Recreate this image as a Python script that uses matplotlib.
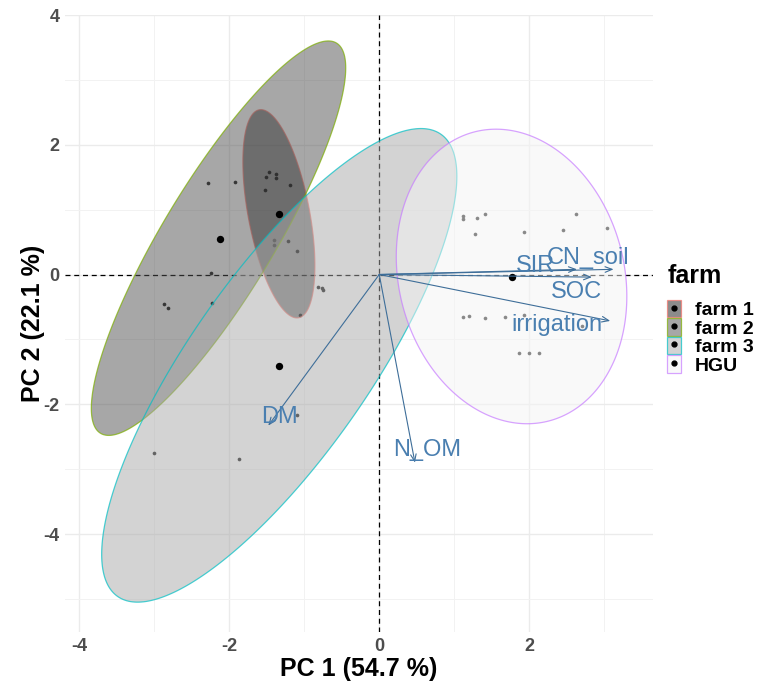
import numpy as np
import matplotlib
matplotlib.use("Agg")
import matplotlib.pyplot as plt
from matplotlib.patches import Polygon, Patch
from matplotlib.lines import Line2D
from matplotlib.colors import to_rgba

plt.rcParams['font.family'] = ['Liberation Sans', 'DejaVu Sans']
plt.rcParams['axes.unicode_minus'] = False

# groups
farms = ['farm 1', 'farm 2', 'farm 3', 'HGU']

# individuals (PC1, PC2) per farm
farm1_x = [-1.467, -1.378, -1.378, -1.51, -1.524, -1.187, -1.409, -1.409, -1.222, -1.102, -1.058]
farm1_y = [1.58, 1.55, 1.48, 1.50, 1.30, 1.386, 0.535, 0.456, 0.517, 0.365, -0.62]
farm2_x = [-2.28, -1.93, -2.249, -2.871, -2.813, -2.236]
farm2_y = [1.41, 1.42, 0.03, -0.456, -0.517, -0.444]
farm3_x = [-0.813, -0.769, -0.747, -1.093, -3.004, -1.867]
farm3_y = [-0.2, -0.213, -0.243, -2.158, -2.748, -2.845]
hgu_x = [1.116, 1.116, 1.302, 1.413, 1.28, 1.924, 2.449, 2.618, 3.036,
         1.116, 1.191, 1.413, 1.671, 1.924, 1.858, 1.991, 2.133, 2.702]
hgu_y = [0.908, 0.857, 0.867, 0.934, 0.626, 0.661, 0.687, 0.934, 0.713,
         -0.649, -0.638, -0.674, -0.658, -0.623, -1.213, -1.213, -1.213, -0.792]

# group means
mean_x = [-1.338, -2.13, -1.336, 1.769]
mean_y = [0.936, 0.547, -1.404, -0.04]

# ellipses: centre, sd x, sd y, correlation
ell_cx = [-1.338, -2.143, -1.333, 1.764]
ell_cy = [0.936, 0.56, -1.40, -0.03]
ell_sx = [0.48, 1.696, 2.368, 1.537]
ell_sy = [1.605, 3.04, 3.65, 2.27]
ell_rho = [-0.50, 0.863, 0.798, -0.135]

# variables
var_names = ['DM', 'N_OM', 'SIR', 'CN_soil', 'SOC', 'irrigation']
var_x = [-1.48, 0.476, 2.636, 3.124, 2.836, 3.08]
var_y = [-2.33, -2.90, 0.08, 0.08, -0.04, -0.715]
lab_x = [-1.324, 0.644, 2.08, 2.79, 2.636, 2.369]
lab_y = [-2.19, -2.705, 0.13, 0.25, -0.263, -0.777]

edge_cols = ['#F8766D', '#7CAE00', '#00BFC4', '#C77CFF']
fill_greys = ['#000000', '#505050', '#a9a9a9', '#f5f5f5']
fill_alpha = [0.45, 0.5, 0.5, 0.5]


def ellipse_xy(cx, cy, sx, sy, rho, n=300):
    t = np.linspace(0, 2 * np.pi, n)
    cov = np.array([[sx * sx, rho * sx * sy], [rho * sx * sy, sy * sy]])
    L = np.linalg.cholesky(cov)
    pts = L @ np.vstack([np.cos(t), np.sin(t)])
    return cx + pts[0], cy + pts[1]


fig = plt.figure(figsize=(7.62, 6.84), dpi=100)
ax = fig.add_axes([65 / 762, 52 / 684, 588 / 762, 617 / 684])

ax.set_xlim(-4.19, 3.65)
ax.set_ylim(-5.51, 4.0)

# grid like theme_minimal
for v in [-4, -2, 0, 2]:
    ax.axvline(v, color='#ebebeb', lw=1.0, zorder=0)
for v in [-3, -1, 1, 3]:
    ax.axvline(v, color='#f2f2f2', lw=0.7, zorder=0)
for v in [-4, -2, 0, 2, 4]:
    ax.axhline(v, color='#ebebeb', lw=1.0, zorder=0)
for v in [-5, -3, -1, 1, 3]:
    ax.axhline(v, color='#f2f2f2', lw=0.7, zorder=0)

# individuals
all_x = farm1_x + farm2_x + farm3_x + hgu_x
all_y = farm1_y + farm2_y + farm3_y + hgu_y
ax.scatter(all_x, all_y, s=7, color='#1e1e1e', lw=0, zorder=1)

ax.axvline(0, color='black', lw=0.9, ls=(0, (4, 3)), zorder=1.5)
ax.axhline(0, color='black', lw=0.9, ls=(0, (4, 3)), zorder=1.5)

# ellipses, drawn over the points
for i in range(4):
    ex, ey = ellipse_xy(ell_cx[i], ell_cy[i], ell_sx[i], ell_sy[i], ell_rho[i])
    poly = Polygon(np.column_stack([ex, ey]), closed=True,
                   facecolor=to_rgba(fill_greys[i], fill_alpha[i]),
                   edgecolor=to_rgba(edge_cols[i], 0.7), lw=0.9, zorder=2)
    ax.add_patch(poly)

ax.scatter(mean_x, mean_y, s=28, color='black', lw=0, zorder=3)

# variable arrows
for i in range(len(var_names)):
    ax.annotate('', xy=(var_x[i], var_y[i]), xytext=(0, 0),
                arrowprops=dict(arrowstyle='->,head_length=0.5,head_width=0.2',
                                color='#3e6e99', lw=0.8, shrinkA=0, shrinkB=0),
                zorder=4)
    ax.text(lab_x[i], lab_y[i], var_names[i], color='#4a7fb0', fontsize=17,
            ha='center', va='center', zorder=5)

ax.set_xticks([-4, -2, 0, 2])
ax.set_yticks([-4, -2, 0, 2, 4])
ax.tick_params(length=0, labelsize=13, labelcolor='#4d4d4d', pad=4)
for lab in ax.get_xticklabels() + ax.get_yticklabels():
    lab.set_fontweight('bold')
for s in ax.spines.values():
    s.set_visible(False)

ax.set_xlabel('PC 1 (54.7 %)', fontsize=18, fontweight='bold', labelpad=2)
ax.set_ylabel('PC 2 (22.1 %)', fontsize=18, fontweight='bold', labelpad=-1)

# legend
handles = []
for i in range(4):
    box = Patch(facecolor=to_rgba(fill_greys[i], fill_alpha[i]),
                edgecolor=to_rgba(edge_cols[i], 0.7), lw=0.9)
    dot = Line2D([], [], marker='o', color='black', ms=3.5, ls='none')
    handles.append((box, dot))
fig.text(668 / 762, 1 - 276 / 684, 'farm', fontsize=18, fontweight='bold', ha='left', va='center')
leg = fig.legend(handles, farms, loc='upper left', bbox_to_anchor=(667 / 762, 1 - 300 / 684),
                 frameon=False, prop={'size': 14, 'weight': 'bold'},
                 handlelength=0.72, handleheight=1.0, handletextpad=0.7,
                 labelspacing=-0.05, borderaxespad=0, borderpad=0)

fig.savefig('out.png', dpi=100)
